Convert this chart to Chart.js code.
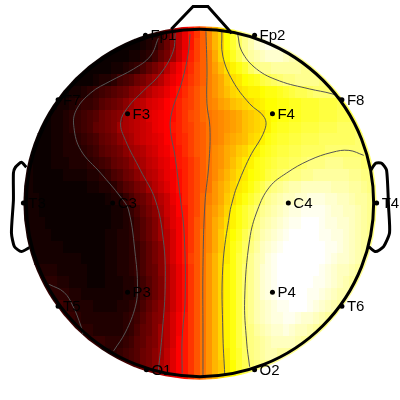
<!DOCTYPE html>
<html>
<head>
<meta charset="utf-8">
<style>
  html, body { margin: 0; padding: 0; background: #fff; }
  canvas { display: block; }
</style>
<script src="https://cdn.jsdelivr.net/npm/chart.js@4"></script>
</head>
<body>
<canvas id="myChart" width="400" height="400"></canvas>
<script>
// electrodes, in head units
const electrodeNames = ["Fp1", "Fp2", "F7", "F3", "F4", "F8", "T3", "C3", "C4", "T4", "T5", "P3", "P4", "T6", "O1", "O2"];
const electrodeX = [-55, 55, -143, -73, 73, 143, -178, -88, 89, 178, -143, -73, 73, 143, -54, 55];
const electrodeY = [169, 169, 104, 90, 90, 104, 0, 0, 0, 0, -104, -90, -90, -104, -168, -168];

// head outline pieces
const nose = [[-29, 175], [-7, 198], [8, 198], [32, 171]];
const earLeft = [[-175, 36], [-180, 41], [-186, 36], [-188, 30], [-188, 3], [-190, -30], [-187, -44], [-180, -49], [-172, -45]];
const earRight = [[172, 33], [177, 40], [183, 40], [188, 33], [190, -4], [191, -30], [185, -44], [177, -49], [170, -44]];

// contour lines
const contourA = [[-42, 166], [-50, 148], [-67, 135], [-90, 123], [-110, 111], [-125, 93], [-127, 76], [-120, 53], [-100, 30], [-80, 6], [-72, -7], [-65, -54], [-63, -84], [-65, -104], [-75, -130], [-87, -149]];
const contourB = [[-25, 171], [-27, 153], [-40, 130], [-57, 113], [-73, 96], [-80, 81], [-75, 63], [-60, 33], [-45, 3], [-37, -37], [-35, -80], [-38, -130], [-42, -169]];
const contourC = [[-10, 170], [-12, 150], [-18, 123], [-28, 93], [-30, 76], [-25, 46], [-20, 6], [-16, -30], [-15, -97], [-18, -137], [-18, -172]];
const contourD = [[6, 173], [7, 136], [7, 100], [10, 76], [9, 40], [5, 0], [3, -64], [3, -130], [3, -174]];
const contourE = [[22, 173], [23, 148], [33, 123], [50, 100], [65, 86], [65, 73], [50, 46], [37, 16], [33, 3], [30, -10], [23, -64], [23, -130], [25, -174]];
const contourF = [[38, 170], [42, 153], [57, 135], [80, 123], [110, 115], [133, 110], [142, 106]];
const contourG = [[165, 48], [150, 53], [133, 51], [110, 43], [87, 30], [70, 16], [58, -7], [50, -37], [45, -97], [47, -140], [50, -165]];
const contourH = [[-152, -82], [-137, -90], [-128, -104], [-120, -124], [-118, -132]];

// potential map, levels 0-63, one row per 12 units from the top
// firstCell = column where each row starts
const firstCell = [19, 15, 12, 9, 7, 6, 4, 3, 2, 2, 1, 0, 0, 0, 0, 0, 0, 0, 0, 1, 2, 3, 4, 5, 6, 8, 10, 13, 16, 21];
const levels = [
  [0,0,1,2,4,8,12,17,21,25,28,32,36,40,43,47,50,54,56,57,59,60],
  [0,0,0,0,0,1,2,3,6,9,12,17,21,25,29,32,36,40,43,47,50,53,56,58,60,61,62,61,60,59,58],
  [0,0,0,0,0,0,1,1,2,3,5,8,10,14,18,22,26,29,32,35,39,43,46,49,52,55,57,58,59,60,60,60,59,58,57,56],
  [0,0,0,0,0,0,1,1,2,3,4,6,8,10,12,16,19,22,25,27,30,32,35,38,41,44,46,48,50,53,55,56,56,57,57,57,57,57,56,56,55,55],
  [0,0,0,0,0,1,2,2,3,5,6,7,9,10,12,14,16,19,21,23,26,28,30,32,35,37,39,42,44,45,47,48,49,51,52,53,54,55,55,56,56,56,56,55,55,55],
  [0,0,1,1,2,3,4,5,6,7,8,9,11,12,14,16,18,19,21,23,25,27,29,31,33,35,37,39,41,43,44,45,46,46,47,48,48,49,50,51,52,52,53,54,54,54,54,54],
  [0,0,1,1,2,3,4,4,5,7,8,9,10,12,14,16,17,19,20,21,23,24,26,28,29,31,33,35,36,38,39,41,42,43,44,45,46,47,47,48,48,49,49,50,50,50,51,51,51,52,52,52],
  [0,0,1,1,2,3,4,5,6,7,9,10,11,12,15,16,17,18,20,21,22,23,24,26,28,30,31,33,34,35,36,37,38,39,41,42,43,44,46,47,48,48,49,49,50,50,50,51,51,51,52,52,52,53],
  [0,0,0,1,1,2,3,4,5,6,8,9,10,11,14,15,16,17,18,19,21,22,23,25,26,28,29,31,32,34,35,36,37,38,39,41,42,43,44,46,48,49,49,50,50,51,51,51,52,52,52,53,53,53,53,53],
  [0,0,0,1,1,2,2,3,4,5,6,8,9,10,12,14,15,17,18,19,20,21,23,24,26,27,29,31,32,34,35,36,38,39,40,41,43,44,46,48,49,50,50,51,51,52,52,52,53,53,53,53,53,53,54,54,54],
  [0,0,0,0,1,1,2,2,2,3,4,5,7,8,9,10,12,14,15,16,18,19,21,22,24,25,27,29,31,32,34,36,37,39,40,42,43,45,46,48,49,50,51,51,52,52,53,53,53,53,54,54,54,54,54,54,54,54],
  [1,1,0,0,0,1,1,1,2,2,2,3,4,5,6,8,9,10,12,14,15,17,18,20,21,23,25,26,28,30,32,34,36,37,39,41,43,45,46,48,49,50,51,52,52,53,53,54,55,55,55,56,56,56,55,55,55,54,54,54],
  [1,1,0,0,0,0,0,1,1,1,1,2,2,3,4,6,7,9,10,12,14,16,17,19,21,22,24,26,28,30,32,34,36,38,40,42,44,45,47,48,49,51,52,53,54,55,55,56,56,57,57,57,57,57,57,56,56,55,55,54],
  [1,1,0,0,0,0,0,0,0,0,0,1,1,2,2,3,5,7,8,10,11,14,16,18,20,22,24,26,28,30,32,34,37,39,41,43,45,46,48,50,52,54,55,56,57,58,58,59,59,59,59,59,58,58,58,57,57,56,55,55],
  [1,1,1,0,0,0,0,0,0,0,0,0,0,0,1,2,2,4,6,8,9,11,14,16,18,21,23,26,28,30,33,35,37,39,42,44,46,48,50,52,54,56,57,58,59,59,60,60,61,61,61,60,60,59,59,58,57,57,56,55],
  [1,1,1,0,0,0,0,0,0,0,0,0,0,0,0,1,1,2,4,6,8,10,12,15,18,20,23,25,28,30,33,36,38,40,43,46,48,50,52,54,56,57,58,59,60,61,61,62,62,62,62,61,60,60,59,59,58,57,56,55],
  [1,1,1,1,0,0,0,0,0,0,0,0,0,0,0,1,1,2,3,5,7,9,11,14,17,20,22,25,28,31,33,36,39,41,44,46,48,50,52,55,57,58,59,60,61,62,62,63,63,63,62,61,61,60,60,59,58,57,56,55],
  [1,1,1,1,1,0,0,0,0,0,0,0,0,0,1,1,2,2,3,5,7,9,11,14,16,19,22,25,28,31,34,36,39,42,45,47,49,52,54,56,58,59,60,61,62,63,63,63,63,63,62,62,61,61,60,59,58,57,56,55],
  [1,1,1,1,1,1,1,0,0,0,0,0,0,0,1,1,2,2,3,4,6,8,10,12,16,19,22,25,28,31,34,36,39,42,45,48,50,53,55,57,59,60,61,62,63,63,63,63,63,63,63,62,62,61,60,59,58,57,56,55],
  [1,1,1,1,1,1,1,1,1,0,0,0,0,1,1,2,2,3,4,6,8,10,12,16,19,22,25,29,31,34,37,40,43,45,48,51,53,56,58,59,61,62,63,63,63,63,63,63,63,63,62,61,60,60,59,58,57,56],
  [2,2,2,2,1,1,1,1,1,0,0,0,1,1,2,2,3,4,6,8,9,12,15,18,21,24,28,31,34,37,40,43,46,48,51,54,56,58,60,61,62,63,63,63,63,63,63,63,62,61,60,59,59,58,57,56],
  [3,3,3,2,2,1,1,1,0,0,0,1,1,1,2,2,3,5,7,9,11,15,18,21,24,28,31,34,37,40,43,46,48,51,54,56,58,60,61,62,63,63,63,63,63,63,62,62,61,60,59,58,57,56],
  [4,3,3,3,2,2,1,1,1,1,1,1,1,2,2,3,5,7,9,11,15,18,21,24,28,31,34,37,40,43,46,48,51,54,56,58,60,61,62,63,63,63,63,63,62,62,61,60,59,58,58,57],
  [4,5,4,3,2,2,2,1,1,1,1,2,2,3,4,6,8,10,12,15,18,21,24,28,31,34,37,40,43,46,48,51,54,56,58,59,60,61,62,62,63,63,63,62,61,60,59,58,57,56],
  [5,5,4,3,2,2,2,2,2,2,2,3,4,5,7,9,11,12,16,19,22,25,28,31,34,37,40,43,46,48,51,54,56,58,59,60,61,61,62,62,61,60,60,59,58,57,56,55],
  [4,4,3,3,2,2,2,2,2,3,4,6,8,9,11,14,16,19,22,25,28,31,34,37,40,43,46,48,51,54,55,57,58,59,60,60,61,60,59,59,58,57,56,55],
  [4,4,4,4,3,3,3,4,5,7,8,10,11,14,16,19,23,25,28,31,34,37,40,43,46,48,51,53,55,56,57,58,59,59,59,59,58,57,57,56],
  [2,2,3,4,5,6,7,9,10,12,14,17,20,23,25,28,31,34,37,40,43,45,48,50,53,55,56,57,58,58,57,57,56,56],
  [4,5,6,7,9,10,12,15,17,20,23,25,28,31,34,37,40,42,45,47,50,52,54,55,56,56,56,55],
  [9,11,15,17,20,23,25,28,31,34,37,40,43,45,47,49,52,54]
];

// matlab style "hot" colours, 64 steps
function hotColor(level) {
  var r = Math.min(1, (level + 1) / 24);
  var g = Math.max(0, Math.min(1, (level + 1 - 24) / 24));
  var b = Math.max(0, Math.min(1, (level + 1 - 48) / 16));
  return "rgb(" + Math.round(r * 255) + "," + Math.round(g * 255) + "," + Math.round(b * 255) + ")";
}

// one 6x12 tile per level, used as the point style
const tiles = [];
for (var k = 0; k < 64; k++) {
  var tile = document.createElement("canvas");
  tile.width = 6;
  tile.height = 12;
  var tc = tile.getContext("2d");
  tc.fillStyle = hotColor(k);
  tc.fillRect(0, 0, 6, 12);
  tiles.push(tile);
}

const heatPoints = [];
const heatStyles = [];
for (var r = 0; r < levels.length; r++) {
  for (var c = 0; c < levels[r].length; c++) {
    heatPoints.push({ x: -177 + 6 * (firstCell[r] + c), y: 172 - 12 * r });
    heatStyles.push(tiles[levels[r][c]]);
  }
}

function toPoints(list) {
  return list.map(function (p) { return { x: p[0], y: p[1] }; });
}

function lineSet(list, color, width, tension) {
  return {
    data: toPoints(list),
    showLine: true,
    fill: false,
    borderColor: color,
    borderWidth: width,
    tension: tension,
    pointRadius: 0
  };
}

const electrodeSet = {
  data: electrodeNames.map(function (n, i) { return { x: electrodeX[i], y: electrodeY[i] }; }),
  backgroundColor: "#000",
  borderColor: "#000",
  pointRadius: 2.5,
  borderWidth: 0
};
const heatSet = {
  data: heatPoints,
  pointStyle: heatStyles,
  pointRadius: 0.5,
  borderWidth: 0
};

const contourColor = "#555";
const allSets = [
  electrodeSet,
  lineSet(nose, "#000", 3, 0),
  lineSet(earLeft, "#000", 3, 0.2),
  lineSet(earRight, "#000", 3, 0.2),
  lineSet(contourA, contourColor, 1, 0.4),
  lineSet(contourB, contourColor, 1, 0.4),
  lineSet(contourC, contourColor, 1, 0.4),
  lineSet(contourD, contourColor, 1, 0.4),
  lineSet(contourE, contourColor, 1, 0.4),
  lineSet(contourF, contourColor, 1, 0.4),
  lineSet(contourG, contourColor, 1, 0.4),
  lineSet(contourH, contourColor, 1, 0.4),
  heatSet
];
const heatIndex = allSets.length - 1;

function headArc(chart, radius) {
  var sx = chart.scales.x, sy = chart.scales.y;
  chart.ctx.beginPath();
  chart.ctx.arc(sx.getPixelForValue(0), sy.getPixelForValue(0), sx.getPixelForValue(radius) - sx.getPixelForValue(0), 0, Math.PI * 2);
}

// keeps the map inside the head circle, then draws the circle and the electrode names
const headPlugin = {
  id: "headPlugin",
  beforeDatasetDraw: function (chart, args) {
    if (args.index != heatIndex) return;
    chart.ctx.save();
    headArc(chart, 178);
    chart.ctx.clip();
  },
  afterDatasetDraw: function (chart, args) {
    if (args.index == heatIndex) chart.ctx.restore();
  },
  afterDatasetsDraw: function (chart) {
    var sx = chart.scales.x, sy = chart.scales.y;
    var ctx = chart.ctx;
    ctx.save();
    headArc(chart, 175);
    ctx.lineWidth = 3;
    ctx.strokeStyle = "#000";
    ctx.stroke();
    ctx.font = "15px 'Liberation Sans'";
    ctx.fillStyle = "#000";
    ctx.textAlign = "left";
    ctx.textBaseline = "middle";
    for (var i = 0; i < electrodeNames.length; i++) {
      ctx.fillText(electrodeNames[i], sx.getPixelForValue(electrodeX[i]) + 5, sy.getPixelForValue(electrodeY[i]) + 1);
    }
    ctx.restore();
  }
};

const CHART = document.getElementById("myChart");
let wykres = new Chart(CHART, {
  type: "scatter",
  data: { datasets: allSets },
  options: {
    responsive: false,
    animation: false,
    events: [],
    layout: { padding: 0 },
    plugins: {
      legend: { display: false },
      tooltip: { enabled: false }
    },
    scales: {
      x: { type: "linear", min: -197.5, max: 197.5, display: false },
      y: { type: "linear", min: -194.5, max: 200.5, display: false }
    }
  },
  plugins: [headPlugin]
});
</script>
</body>
</html>
